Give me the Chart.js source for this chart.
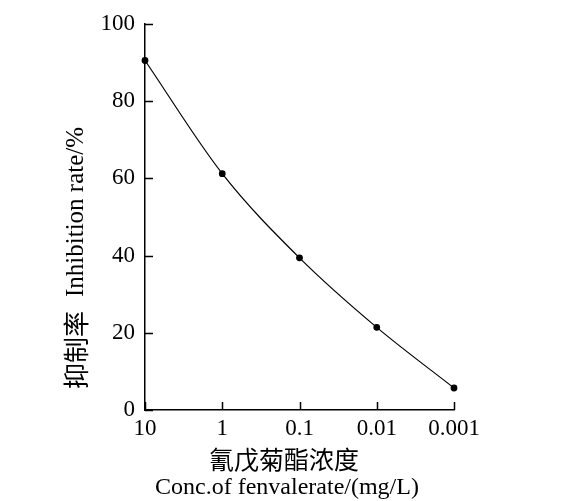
<!DOCTYPE html>
<html>
<head>
<meta charset="utf-8">
<script src="https://cdn.jsdelivr.net/npm/chart.js@4.4.0/dist/chart.umd.min.js"></script>
<style>
  html, body { margin: 0; padding: 0; background: #fff; }
  #wrap { width: 586px; height: 501px; }
</style>
</head>
<body>
<div id="wrap"><canvas id="inhibit"></canvas></div>
<script>
// concentration (mg/L), drawn high to low
var concLabels = ["10", "1", "0.1", "0.01", "0.001"];
// inhibition rate %
var inhibition = [90.5, 61.2, 39.4, 21.4, 5.7];
var yTicks = [0, 20, 40, 60, 80, 100];

var serif = "'Liberation Serif', 'Times New Roman', serif";
var cjk = "'Noto Sans CJK SC', serif";

// ticks pointing into the plot, plus axis titles
var innerTicks = {
    id: "innerTicks",
    afterDraw: function (chart) {
        var ctx = chart.ctx;
        var xs = chart.scales.x, ys = chart.scales.y;
        var area = chart.chartArea;
        ctx.save();
        ctx.strokeStyle = "#000";
        ctx.lineWidth = 1.5;
        ctx.beginPath();
        for (var i = 0; i < xs.ticks.length; i++) {
            var px = Math.round(xs.getPixelForTick(i)) + 0.5;
            ctx.moveTo(px, area.bottom);
            ctx.lineTo(px, area.bottom - 8);
        }
        for (var j = 0; j < ys.ticks.length; j++) {
            var py = Math.round(ys.getPixelForTick(j)) + 0.5;
            ctx.moveTo(area.left, py);
            ctx.lineTo(area.left + 8, py);
        }
        ctx.stroke();

        ctx.fillStyle = "#000";
        ctx.textAlign = "center";
        ctx.textBaseline = "middle";
        ctx.font = "25px " + cjk;
        ctx.fillText("氰戊菊酯浓度", 284, 459);
        ctx.font = "24px " + serif;
        ctx.fillText("Conc.of fenvalerate/(mg/L)", 287, 488);

        // y title, rotated
        ctx.translate(76, 0);
        ctx.rotate(-Math.PI / 2);
        ctx.textAlign = "left";
        ctx.font = "25px " + serif;
        ctx.fillText("Inhibition rate/%", -297, 0);
        ctx.font = "26px " + cjk;
        ctx.fillText("抑制率", -389, 0);
        ctx.restore();
    }
};

var chart = new Chart(document.getElementById("inhibit"), {
    type: "line",
    data: {
        labels: concLabels,
        datasets: [
            {
                label: "Inhibition rate",
                data: inhibition,
                borderColor: "#000",
                borderWidth: 1.2,
                backgroundColor: "#000",
                pointRadius: 2.8,
                pointHoverRadius: 2.8,
                cubicInterpolationMode: "monotone",
                fill: false
            }
        ]
    },
    options: {
        responsive: true,
        maintainAspectRatio: false,
        animation: false,
        layout: { padding: { left: 0, top: 20, right: 132, bottom: 0 } },
        plugins: { legend: { display: false }, tooltip: { enabled: false } },
        scales: {
            x: {
                type: "category",
                offset: false,
                grid: { display: false, drawTicks: false },
                border: { color: "#000", width: 1.5 },
                ticks: {
                    color: "#000",
                    padding: 5,
                    maxRotation: 0,
                    autoSkip: false,
                    font: { family: serif, size: 23 }
                },
                afterFit: function (scale) { scale.height = 91; }
            },
            y: {
                min: 0,
                max: 100,
                afterBuildTicks: function (scale) {
                    scale.ticks = yTicks.map(function (v) { return { value: v }; });
                },
                grid: { display: false, drawTicks: false },
                border: { color: "#000", width: 1.5 },
                ticks: {
                    color: "#000",
                    padding: 10,
                    font: { family: serif, size: 23 }
                },
                afterFit: function (scale) { scale.width = 145; }
            }
        }
    },
    plugins: [innerTicks]
});
</script>
</body>
</html>
